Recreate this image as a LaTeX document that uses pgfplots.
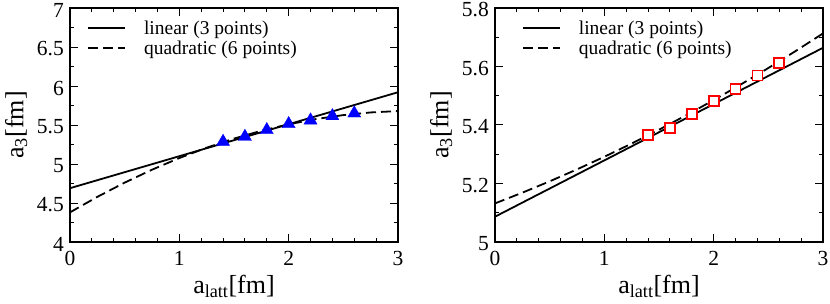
\documentclass[border=0pt]{standalone}
\usepackage{pgfplots}
\pgfplotsset{compat=1.18}
\usepackage{fontspec}
\setmainfont{Liberation Serif}
\pgfplotsset{
 myax/.style={
  scale only axis, width=328bp, height=234bp,
  xmin=0, xmax=3, xtick={0,1,2,3}, minor x tick num=4, minor y tick num=1,
  tick align=inside, major tick length=8bp, minor tick length=4bp,
  every tick/.style={black, line width=1bp},
  axis line style={line width=1.2bp},
  tick label style={font=\fontsize{21.5bp}{21.5bp}\selectfont},
  yticklabel style={inner sep=0pt, xshift=-6bp, yshift=-2bp},
  xticklabel style={inner sep=0pt, yshift=-9bp},
  /pgf/number format/assume math mode=true,
  xlabel={a\textsubscript{latt}[fm]}, ylabel={a\textsubscript{3}[fm]},
  xlabel style={font=\fontsize{26bp}{26bp}\selectfont, at={(axis description cs:0.5,-0.22)}, anchor=base},
  ylabel style={font=\fontsize{26bp}{26bp}\selectfont, at={(axis description cs:-0.142,0.5)}, anchor=base},
  legend style={draw=none, fill=none, font=\fontsize{19.5bp}{19.5bp}\selectfont, anchor=north west, column sep=16bp, row sep=1bp, inner sep=0pt},
  legend cell align=left,
  legend image code/.code={\draw[##1] (0bp,0bp) -- (37bp,0bp);},
 },
 solidl/.style={black, line width=1.8bp},
 dashl/.style={black, line width=1.8bp, dash pattern=on 10bp off 5bp},
}
\begin{document}
\begin{tikzpicture}
\path[use as bounding box] (0,0) rectangle (830bp,304bp);
% left panel
\begin{axis}[myax, at={(70bp,62bp)}, anchor=south west,
  ymin=4, ymax=7, ytick={4,4.5,5,5.5,6,6.5,7},
  legend style={at={(axis description cs:0.052,0.955)}}]
\addplot[solidl] coordinates {(0,4.69) (3,5.92)};
\addlegendentry{linear (3 points)}
\addplot[dashl] coordinates {(0,4.380) (0.25,4.5788) (0.5,4.7611) (0.75,4.9269) (1.0,5.0763) (1.25,5.2092) (1.5,5.3257) (1.75,5.4257) (2.0,5.5092) (2.25,5.5763) (2.5,5.6269) (2.75,5.6610) (3.0,5.6787)};
\addlegendentry{quadratic (6 points)}
\addplot[only marks, mark=triangle*, mark size=7.5bp, color=blue, forget plot] coordinates {(1.4,5.286) (1.6,5.350) (1.8,5.436) (2.0,5.513) (2.2,5.560) (2.4,5.615) (2.6,5.650)};
\end{axis}
% right panel
\begin{axis}[myax, at={(495bp,62bp)}, anchor=south west,
  ymin=5, ymax=5.8, ytick={5,5.2,5.4,5.6,5.8},
  legend style={at={(axis description cs:0.082,0.955)}}]
\addplot[solidl] coordinates {(0,5.0865) (3,5.664)};
\addlegendentry{linear (3 points)}
\addplot[dashl] coordinates {(0,5.1320) (0.25,5.1686) (0.5,5.2074) (0.75,5.2483) (1.0,5.2914) (1.25,5.3366) (1.5,5.3839) (1.75,5.4334) (2.0,5.4851) (2.25,5.5389) (2.5,5.5948) (2.75,5.6529) (3.0,5.7131)};
\addlegendentry{quadratic (6 points)}
\addplot[only marks, mark=square*, mark size=5bp, mark options={draw=red, fill=white, line width=1.8bp}, forget plot,
  error bars/.cd, y dir=both, y explicit, error mark=none, error bar style={black, line width=0.8bp}]
  coordinates {(1.4,5.366) +- (0,0.006) (1.6,5.390) +- (0,0.006) (1.8,5.438) +- (0,0.006) (2.0,5.483) +- (0,0.006) (2.2,5.524) +- (0,0.006) (2.4,5.569) +- (0,0.006) (2.6,5.613) +- (0,0.006)};
\end{axis}
\end{tikzpicture}
\end{document}
